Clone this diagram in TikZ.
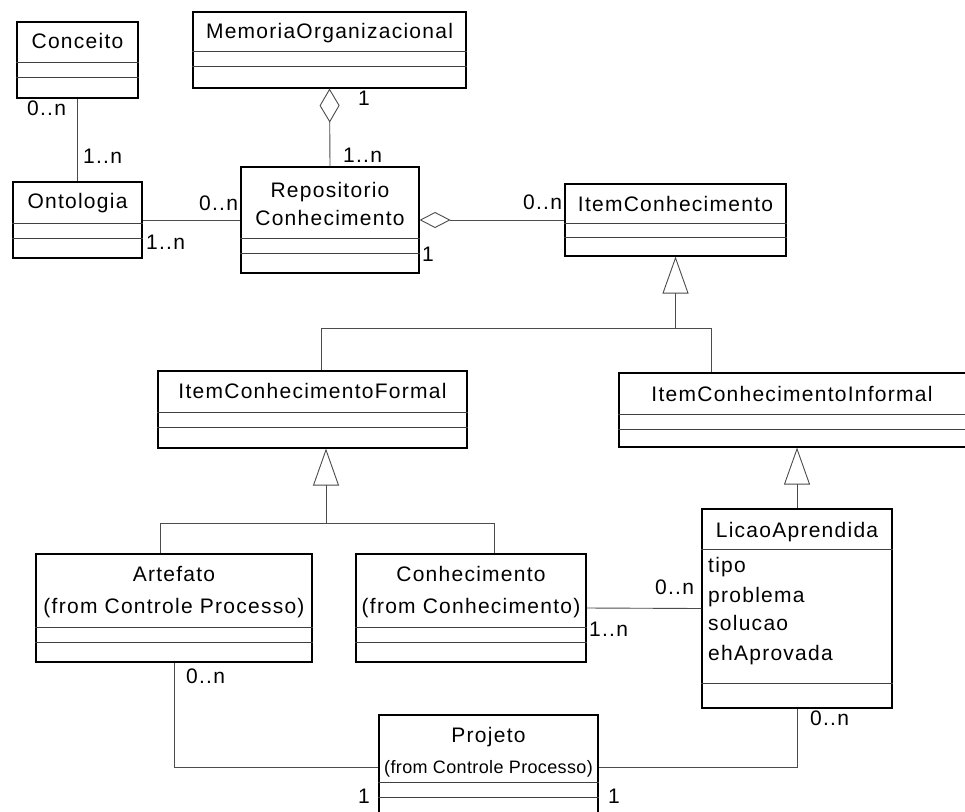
\documentclass[tikz,border=0pt]{standalone}
\usepackage{fontspec}
\usetikzlibrary{arrows.meta}
\newfontfamily\umlfont[LetterSpace=6]{Liberation Sans}
\newfontfamily\umlsmall[LetterSpace=2]{Liberation Sans}
\begin{document}
\begin{tikzpicture}[x=1pt,y=-1pt,
  cls/.style={draw=black,line width=1.1pt,inner sep=0pt,fill=white},
  comp/.style={draw=black!75,line width=0.9pt},
  conn/.style={draw=black!70,line width=0.9pt},
  txt/.style={inner sep=0pt,anchor=base,font=\umlfont\fontsize{21}{23}\selectfont},
  attr/.style={inner sep=0pt,anchor=base west,font=\umlfont\fontsize{21}{23}\selectfont},
  stxt/.style={inner sep=0pt,anchor=base,font=\umlsmall\fontsize{18}{20}\selectfont},
  mult/.style={inner sep=0pt,anchor=base west,font=\umlfont\fontsize{21}{23}\selectfont},
  genl/.style={conn,-{Triangle[open,length=37pt,width=26pt]}},
  aggrA/.style={conn,-{Diamond[open,length=34pt,width=20pt]}},
  aggrB/.style={conn,{Diamond[open,length=31pt,width=16pt]}-}
]
\clip (0,0) rectangle (965,811);
\fill[white] (0,0) rectangle (965,811);

% classes
\node[cls,minimum width=121pt,minimum height=76pt] (conceito) at (77.5,60) {};
\node[cls,minimum width=273pt,minimum height=76pt] (memoria) at (329.5,50) {};
\node[cls,minimum width=178pt,minimum height=106pt] (repos) at (330,220) {};
\node[cls,minimum width=129pt,minimum height=76pt] (ontologia) at (77.5,220) {};
\node[cls,minimum width=221pt,minimum height=72pt] (item) at (675.5,220) {};
\node[cls,minimum width=309pt,minimum height=77pt] (formal) at (312.5,409.5) {};
\node[cls,minimum width=371pt,minimum height=74pt] (informal) at (804.5,410) {};
\node[cls,minimum width=190pt,minimum height=199pt] (licao) at (797,608.5) {};
\node[cls,minimum width=276pt,minimum height=108pt] (artefato) at (174,608) {};
\node[cls,minimum width=230pt,minimum height=108pt] (conh) at (471,608) {};
\node[cls,minimum width=219pt,minimum height=105pt] (projeto) at (488.5,767.5) {};

% compartments
\foreach \n/\a/\b in {conceito/62/77, memoria/51/66, repos/238/253, ontologia/223/238,
  item/223/237, formal/412/427, informal/414/429, licao/549/683, artefato/627/642,
  conh/627/642, projeto/782/797}{
  \draw[comp] (\n.west |- 0,\a) -- (\n.east |- 0,\a);
  \draw[comp] (\n.west |- 0,\b) -- (\n.east |- 0,\b);
}

% names
\node[txt] (conceitoN) at (77.5,48) {Conceito};
\node[txt] (memoriaN) at (329.5,38) {MemoriaOrganizacional};
\node[txt] (reposN1) at (330,197) {Repositorio};
\node[txt] (reposN2) at (330,225) {Conhecimento};
\node[txt] (ontologiaN) at (77.5,208) {Ontologia};
\node[txt] (itemN) at (675.5,211) {ItemConhecimento};
\node[txt] (formalN) at (312.5,398) {ItemConhecimentoFormal};
\node[txt] (informalN) at (792,401) {ItemConhecimentoInformal};
\node[txt] (licaoN) at (797,537) {LicaoAprendida};
\node[attr] (licaoA1) at (708,572) {tipo};
\node[attr] (licaoA2) at (708,602) {problema};
\node[attr] (licaoA3) at (708,630) {solucao};
\node[attr] (licaoA4) at (708,660) {ehAprovada};
\node[txt] (artefatoN1) at (174,581) {Artefato};
\node[txt] (artefatoN2) at (174,613) {(from Controle Processo)};
\node[txt] (conhN1) at (471,581) {Conhecimento};
\node[txt] (conhN2) at (471,613) {(from Conhecimento)};
\node[txt] (projetoN1) at (488.5,742) {Projeto};
\node[stxt] (projetoN2) at (488.5,773) {(from Controle Processo)};

% connectors
\draw[conn] (conceito.south) -- (ontologia.north);
\draw[aggrA] (repos.north) -- (memoria.south);
\draw[conn] (ontologia.east) -- (repos.west);
\draw[aggrB] (repos.east) -- (item.west);

\coordinate (gA) at (675.5,328);
\coordinate (gAl) at (321,328);
\coordinate (gAr) at (711,328);
\draw[genl] (gA) -- (item.south);
\draw[conn] (gAl |- formal.north) -- (gAl) -- (gAr) -- (gAr |- informal.north);

\coordinate (gB) at (326,523);
\coordinate (gBl) at (160,523);
\coordinate (gBr) at (494,523);
\draw[genl] (gB) -- (gB |- formal.south);
\draw[conn] (gBl |- artefato.north) -- (gBl) -- (gBr) -- (gBr |- conh.north);

\draw[genl] (licao.north) -- (informal.south -| licao.north);

\draw[conn] (conh.east) -- (licao.west);
\draw[conn] (artefato.south) |- (projeto.west);
\draw[conn] (licao.south) |- (projeto.east);

% multiplicities
\node[mult] (m1) at (27,115) {0..n};
\node[mult] (m2) at (83,163) {1..n};
\node[mult] (m3) at (358,105) {1};
\node[mult] (m4) at (343,162) {1..n};
\node[mult] (m5) at (199,210) {0..n};
\node[mult] (m6) at (146,249) {1..n};
\node[mult] (m7) at (422,261) {1};
\node[mult] (m8) at (523,209) {0..n};
\node[mult] (m9) at (655,594) {0..n};
\node[mult] (m10) at (589,636) {1..n};
\node[mult] (m11) at (186,683) {0..n};
\node[mult] (m12) at (358,803) {1};
\node[mult] (m13) at (810,725) {0..n};
\node[mult] (m14) at (608,803) {1};
\end{tikzpicture}
\end{document}
